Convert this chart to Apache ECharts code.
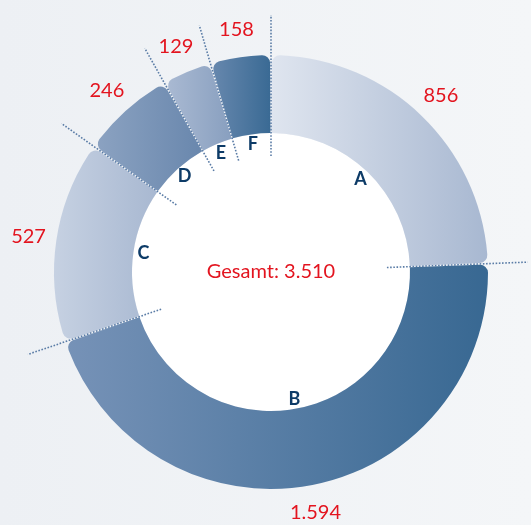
<!DOCTYPE html>
<html>
<head>
<meta charset="utf-8">
<script src="https://cdn.jsdelivr.net/npm/echarts@6/dist/echarts.min.js"></script>
<style>
html,body{margin:0;padding:0;width:531px;height:525px;overflow:hidden;background:linear-gradient(90deg,#edf0f4 0%,#f4f6f8 100%);}
#chart{width:531px;height:525px;}
</style>
</head>
<body>
<div id="chart"></div>
<script>
var categories = ['A', 'B', 'C', 'D', 'E', 'F'];
var values = [856, 1594, 527, 246, 129, 158];
var gradientLeft  = ['#dfe5ef', '#7692b7', '#c6d1e2', '#8ba2c1', '#a9b9d2', '#6687ad'];
var gradientRight = ['#a8b8d1', '#386892', '#a8b8d1', '#6987ad', '#889fbf', '#3a6a94'];
var totalLabel = 'Gesamt: ';

function fmt(n) {
  return String(n).replace(/\B(?=(\d{3})+(?!\d))/g, '.');
}

var total = values.reduce(function (a, b) { return a + b; }, 0);
var boundaries = [];
var cum = 0;
for (var i = 0; i < values.length; i++) { boundaries.push(cum); cum += values[i]; }

var CENTER = [271, 272];
var FONT = 'Lato, "Open Sans", sans-serif';

var mainData = categories.map(function (c, i) {
  return {
    name: c, value: values[i],
    itemStyle: {
      color: new echarts.graphic.LinearGradient(0, 0, 1, 0, [
        { offset: 0, color: gradientLeft[i] },
        { offset: 1, color: gradientRight[i] }
      ])
    }
  };
});
var plainData = categories.map(function (c, i) { return { name: c, value: values[i] }; });

var series = [
  {
    type: 'pie', z: 1, silent: true, center: CENTER, radius: [0, 139],
    data: [{ value: total, name: 'total' }],
    itemStyle: { color: '#ffffff' },
    label: {
      show: true, position: 'center',
      formatter: function (p) { return totalLabel + fmt(p.value); },
      color: '#e3141f', fontSize: 20, fontFamily: FONT, padding: [3, 0, 0, 0]
    },
    labelLine: { show: false }
  },
  {
    type: 'pie', z: 2, silent: true, center: CENTER, radius: [139, 217],
    startAngle: 90, clockwise: true, padAngle: 0.5,
    itemStyle: { borderRadius: [0, 8] },
    label: { show: false }, labelLine: { show: false },
    data: mainData
  },
  {
    type: 'pie', z: 4, silent: true, center: CENTER, radius: [116, 136],
    startAngle: 90, clockwise: true,
    itemStyle: { color: 'rgba(0,0,0,0)' },
    label: { show: true, position: 'inside', formatter: '{b}', color: '#0d3b67', fontSize: 18, fontWeight: 'bold', fontFamily: FONT, padding: [3, 0, 0, 0] },
    labelLine: { show: false },
    data: plainData
  },
  {
    type: 'pie', z: 4, silent: true, center: CENTER, radius: [232, 252],
    startAngle: 90, clockwise: true,
    itemStyle: { color: 'rgba(0,0,0,0)' },
    label: {
      show: true, position: 'inside',
      formatter: function (p) { return fmt(p.value); },
      color: '#e3141f', fontSize: 20, fontFamily: FONT, padding: [3, 0, 0, 0]
    },
    labelLine: { show: false },
    data: plainData
  }
];

boundaries.forEach(function (b) {
  series.push({
    type: 'line', coordinateSystem: 'polar', z: 5, silent: true,
    showSymbol: false, symbol: 'none',
    lineStyle: { color: '#5a7ca6', width: 1.6, type: [1.6, 1.6] },
    data: [[116, b], [257, b]]
  });
});

var chart = echarts.init(document.getElementById('chart'), null, { renderer: 'canvas' });
chart.setOption({
  backgroundColor: 'transparent',
  animation: false,
  polar: { center: CENTER, radius: 257 },
  angleAxis: { type: 'value', min: 0, max: total, startAngle: 90, clockwise: true, show: false },
  radiusAxis: { type: 'value', min: 0, max: 257, show: false },
  series: series
});
</script>
</body>
</html>
